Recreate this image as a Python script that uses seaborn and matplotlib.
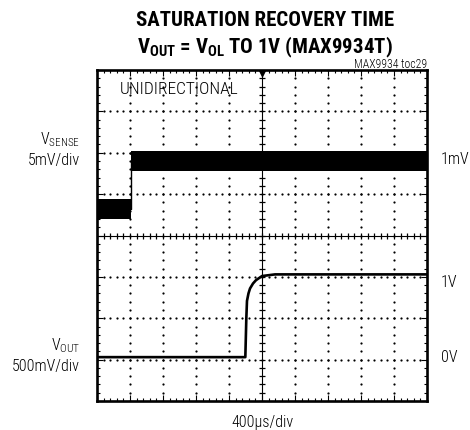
import numpy as np
import pandas as pd
import matplotlib
matplotlib.use('Agg')
import matplotlib.pyplot as plt
import matplotlib.font_manager as fm
import seaborn as sns

# scope settings
time_per_div_us = 400
vsense_mv_per_div = 5
vout_v_per_div = 0.5
n_xdiv, n_ydiv = 10, 8

# channel reference markers (divisions from bottom of screen)
vsense_ref_div = 5.8
vsense_ref_mv = 1.0
vout_zero_div = 1.06

# VSENSE trace: saturated level, then steps to 1mV
vsense_t_us = [0, 408, 408, 4000]
vsense_mv = [-4.8, -4.8, 1.0, 1.0]
vsense_noise_mv = 1.2

# VOUT trace: recovery from VOL to 1V
vout_t_us = [0, 1798, 1810, 1818, 1836, 1855, 1891, 1927, 2000, 2158, 2400, 4000]
vout_v = [0, 0, 0.47, 0.68, 0.77, 0.83, 0.89, 0.93, 0.98, 1.0, 1.0, 1.0]

# pick a condensed face if one is there
installed = {f.name for f in fm.fontManager.ttflist}
cond = next((n for n in ['Roboto Condensed', 'Archivo Narrow', 'Liberation Sans Narrow']
             if n in installed), 'DejaVu Sans')

sns.set_style('white')
plt.rcParams['font.family'] = [cond, 'DejaVu Sans']
plt.rcParams['text.color'] = 'black'
plt.rcParams['mathtext.fontset'] = 'custom'
plt.rcParams['mathtext.rm'] = cond + ':light'
plt.rcParams['mathtext.bf'] = cond + ':bold'

W, H = 470, 431
fig = plt.figure(figsize=(W / 100, H / 100), dpi=100)
ax = fig.add_axes([97 / W, 1 - 402 / H, 330 / W, 331 / H])

# convert to screen divisions
vs = pd.DataFrame({'t': np.array(vsense_t_us) / time_per_div_us,
                   'y': vsense_ref_div + (np.array(vsense_mv) - vsense_ref_mv) / vsense_mv_per_div})
half = vsense_noise_mv / vsense_mv_per_div
vo = pd.DataFrame({'t': np.array(vout_t_us) / time_per_div_us,
                   'y': vout_zero_div + np.array(vout_v) / vout_v_per_div})

# graticule: dotted grid
minor = np.arange(0, n_xdiv + 0.01, 0.2)
minor_y = np.arange(0, n_ydiv + 0.01, 0.2)
for gy in range(1, n_ydiv):
    if gy == n_ydiv // 2:
        continue
    ax.plot(minor, np.full_like(minor, gy), ls='none', marker='o', ms=1.6, mew=0,
            color='black', zorder=1)
for gx in range(1, n_xdiv):
    if gx == n_xdiv // 2:
        continue
    ax.plot(np.full_like(minor_y, gx), minor_y, ls='none', marker='o', ms=1.6, mew=0,
            color='black', zorder=1)

# center crosshair with ticks
ax.axhline(n_ydiv / 2, color='black', lw=0.8, zorder=1)
ax.axvline(n_xdiv / 2, color='black', lw=0.8, zorder=1)
ax.plot(minor, np.full_like(minor, n_ydiv / 2), ls='none', marker='|', ms=5, mew=0.9,
        color='black', zorder=1)
ax.plot(np.full_like(minor_y, n_xdiv / 2), minor_y, ls='none', marker='_', ms=5, mew=0.9,
        color='black', zorder=1)
ax.plot([n_xdiv / 2], [n_ydiv - 0.08], marker='v', ms=4, color='black', zorder=2)

# traces
ax.fill_between(vs['t'], vs['y'] - half, vs['y'] + half, color='black', lw=0, zorder=3)
sns.lineplot(data=vs, x='t', y='y', ax=ax, color='black', lw=1, sort=False, estimator=None, zorder=3)
sns.lineplot(data=vo, x='t', y='y', ax=ax, color='black', lw=1.9, sort=False, estimator=None, zorder=3)

ax.set_xlim(0, n_xdiv)
ax.set_ylim(0, n_ydiv)
ax.set_xlabel('')
ax.set_ylabel('')
ax.set_xticks(range(n_xdiv + 1))
ax.set_yticks(range(n_ydiv + 1))
ax.set_xticks(minor, minor=True)
ax.set_yticks(minor_y, minor=True)
ax.tick_params(which='both', direction='in', top=True, right=True, bottom=True, left=True,
               labelbottom=False, labelleft=False, color='black')
ax.tick_params(which='major', length=4, width=0.8)
ax.tick_params(which='minor', length=2.5, width=0.8)
for s in ax.spines.values():
    s.set_linewidth(1.9)
    s.set_color('black')

# titles and labels
fig.text(265 / W, 1 - 20 / H, 'SATURATION RECOVERY TIME', ha='center', va='center',
         fontsize=15, fontweight='bold')
fig.text(265 / W, 1 - 47 / H, r'$\mathbf{V_{OUT}}$ = $\mathbf{V_{OL}}$ TO 1V (MAX9934T)',
         ha='center', va='center', fontsize=15, fontweight='bold')
fig.text(427 / W, 1 - 64 / H, 'MAX9934 toc29', ha='right', va='center', fontsize=8.5,
         fontweight='light')
ax.text(0.7, 7.55, 'UNIDIRECTIONAL', ha='left', va='center', fontsize=12.5, fontweight='light')

lab = dict(fontsize=11.5, fontweight='light')
fig.text(80 / W, 1 - 140 / H, r'$\mathregular{V_{SENSE}}$', ha='right', va='center', **lab)
fig.text(80 / W, 1 - 160 / H, '5mV/div', ha='right', va='center', **lab)
fig.text(80 / W, 1 - 346 / H, r'$\mathregular{V_{OUT}}$', ha='right', va='center', **lab)
fig.text(80 / W, 1 - 367 / H, '500mV/div', ha='right', va='center', **lab)

fig.text(441 / W, 1 - 160 / H, '1mV', ha='left', va='center', **lab)
fig.text(441 / W, 1 - 283 / H, '1V', ha='left', va='center', **lab)
fig.text(441 / W, 1 - 358 / H, '0V', ha='left', va='center', **lab)
fig.text(263 / W, 1 - 423 / H, '400\u03bcs/div', ha='center', va='center', **lab)

fig.savefig('out.png', dpi=100, facecolor='white')
